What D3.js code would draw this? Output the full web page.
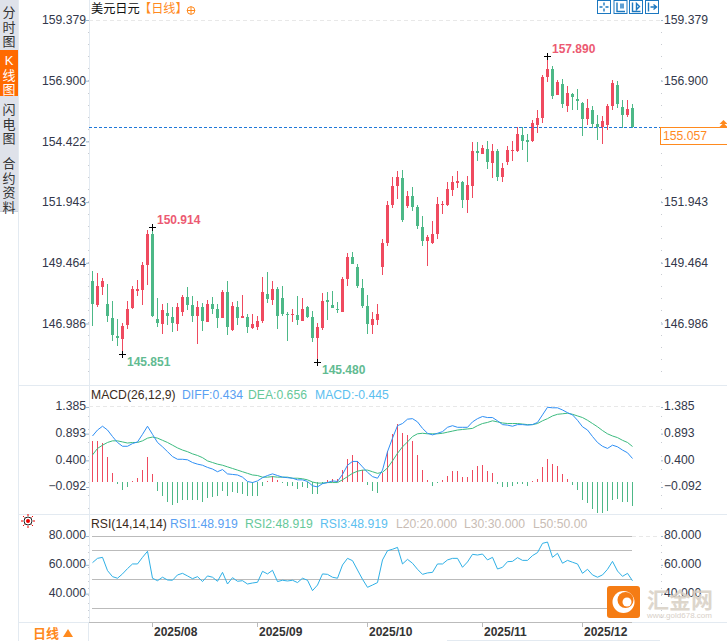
<!DOCTYPE html>
<html>
<head>
<meta charset="utf-8">
<title>美元日元</title>
<script src="https://cdn.jsdelivr.net/npm/d3@7"></script>
<style>
  html, body { margin: 0; padding: 0; background: #fff; }
  svg { display: block; }
  text { font-family: "Liberation Sans", "Noto Sans CJK SC", sans-serif; }
</style>
</head>
<body>
<svg id="chart" width="727" height="641"></svg>
<script>
// --- Data ---
const opens = [148.72,147.75,148.48,147.79,147.21,146.48,146.36,146.93,147.62,148.32,148.36,149.38,150.64,147.17,146.97,147.42,147.25,146.97,147.46,148.07,
  147.75,147.29,147.66,147.05,147.79,147.58,147.21,148.27,146.72,147.66,147.21,147.25,146.80,146.84,147.09,148.19,147.95,148.40,148.03,147.37,
  147.33,147.33,147.09,147.66,147.25,146.40,146.80,147.95,147.75,147.58,147.46,148.80,149.70,149.30,148.44,147.70,146.93,147.13,149.30,150.27,
  151.83,152.60,152.93,151.79,152.20,151.75,150.93,150.36,150.27,150.64,151.83,151.83,152.44,152.72,152.76,152.03,152.60,154.03,153.91,154.11,
  153.54,154.03,152.97,153.58,154.03,154.03,154.68,154.48,154.44,155.09,155.38,157.05,157.38,156.32,156.77,155.87,156.36,156.15,155.99,155.34,
  155.70,155.13,155.01,155.09,155.87,156.73,155.83,155.50,155.79];
const highs = [149.13,149.05,148.84,148.60,147.91,147.17,147.01,147.91,148.52,148.76,149.50,150.81,150.89,148.03,147.79,147.83,147.66,147.83,148.15,148.48,
  148.11,147.91,147.83,147.95,148.07,147.79,148.36,148.72,147.87,147.91,148.15,147.37,147.37,147.29,148.89,149.09,148.72,148.48,148.52,147.46,
  147.58,148.11,148.03,147.70,147.50,147.01,148.23,148.27,148.31,147.87,148.89,149.87,149.91,149.42,148.80,148.15,147.46,147.79,150.44,151.99,
  152.97,153.21,153.25,152.40,152.56,151.83,151.38,150.60,151.17,152.15,151.99,152.76,153.01,153.21,152.81,153.01,154.40,154.40,154.28,154.44,
  154.32,154.11,153.54,154.24,154.44,155.01,155.01,154.72,155.30,155.70,157.13,157.87,157.50,156.93,156.97,156.68,156.40,156.56,156.03,156.15,
  155.87,155.50,155.46,155.95,156.93,156.89,156.11,156.11,155.95];
const lows = [146.89,147.66,148.15,147.05,146.27,146.07,145.78,146.76,147.58,148.11,147.75,148.56,147.25,146.84,146.56,146.93,146.64,146.68,147.29,147.54,
  147.05,146.15,146.68,147.05,147.37,146.80,147.21,146.52,146.68,146.93,147.21,146.60,146.76,146.72,147.01,147.83,147.75,146.76,147.29,146.27,
  147.05,146.93,147.09,147.21,146.23,145.46,146.72,147.13,147.62,147.42,147.46,148.52,149.42,148.44,147.62,146.56,146.56,146.93,148.97,150.15,
  151.70,152.07,151.13,151.70,151.58,150.85,150.15,149.34,150.23,150.44,151.46,151.79,152.20,152.52,151.70,151.50,152.11,153.62,153.91,153.30,
  152.93,152.81,152.76,153.46,153.62,153.99,154.07,153.58,154.40,154.77,155.17,156.85,156.15,156.32,155.79,155.62,155.70,155.70,154.64,155.09,
  154.97,154.48,154.32,154.89,155.70,155.79,154.97,155.42,154.97];
const closes = [147.79,148.52,148.72,147.30,146.52,146.40,146.89,147.58,148.40,148.40,149.38,150.64,147.29,147.00,147.54,147.29,147.00,147.66,148.07,147.75,
  147.29,147.66,147.09,147.79,147.58,147.21,148.27,146.84,147.70,147.21,147.29,146.84,146.97,147.09,148.27,147.99,148.40,147.29,147.37,147.33,
  147.37,147.13,147.58,147.25,146.40,146.85,147.91,147.87,147.62,147.54,148.80,149.70,149.42,148.52,147.70,146.97,147.17,147.37,150.27,151.83,
  152.60,152.97,151.21,152.20,151.75,150.97,150.36,150.52,150.64,151.87,151.87,152.48,152.76,152.81,152.03,152.64,154.03,153.95,154.15,153.58,
  154.03,152.97,153.34,154.07,154.07,154.72,154.44,154.40,155.17,155.38,157.05,157.38,156.28,156.85,155.95,156.40,156.24,156.07,155.34,155.79,
  155.13,155.01,155.26,155.87,156.81,155.95,155.50,155.75,155.01];

const diffLine = [.85,.96,1.03,.96,.84,.73,.66,.66,.71,.74,.88,1.03,.88,.73,.65,.56,.47,.42,.42,.41,
  .36,.33,.31,.27,.24,.19,.23,.15,.14,.13,.09,.01,-.01,.02,.08,.12,.15,.12,.09,.08,
  .07,.04,.04,.01,-.07,-.09,-.03,-.01,.02,.01,.14,.31,.38,.38,.28,.18,.10,.07,.22,.56,
  .81,1.04,1.08,1.16,1.17,1.11,.99,.90,.87,.90,.93,1.01,1.04,1.01,1.01,1.01,1.11,1.17,1.21,1.19,
  1.19,1.13,1.06,1.05,1.03,1.06,1.06,1.05,1.06,1.10,1.24,1.38,1.37,1.37,1.33,1.28,1.24,1.14,1.02,.96,
  .84,.73,.66,.62,.68,.65,.59,.54,.434];
const deaLine = [.50,.62,.68,.73,.76,.76,.74,.72,.73,.73,.76,.81,.83,.81,.77,.73,.68,.63,.59,.56,
  .52,.49,.45,.39,.36,.33,.31,.28,.25,.22,.19,.16,.13,.12,.09,.09,.10,.09,.09,.09,
  .07,.07,.06,.04,0,-.02,-.02,-.01,-.01,-.01,.04,.10,.16,.20,.22,.22,.19,.16,.18,.26,
  .39,.53,.65,.74,.84,.89,.90,.89,.89,.89,.90,.92,.94,.96,.97,.98,.99,1.04,1.08,1.10,
  1.13,1.11,1.09,1.08,1.08,1.08,1.07,1.06,1.06,1.08,1.13,1.17,1.22,1.25,1.26,1.27,1.25,1.22,1.19,1.14,
  1.08,1.02,.95,.89,.85,.82,.77,.73,.656];
const macdBars = [.75,.75,.72,.47,.17,-.04,-.14,-.10,.02,.07,.23,.46,.14,-.16,-.25,-.36,-.43,-.39,-.33,-.33,
  -.33,-.34,-.36,-.30,-.28,-.26,-.16,-.25,-.18,-.20,-.23,-.26,-.26,-.25,-.07,.02,.12,.04,-.02,-.07,
  -.08,-.12,-.10,-.11,-.22,-.22,-.04,.04,.06,.06,.23,.43,.49,.38,.22,-.05,-.16,-.21,.17,.57,
  .89,1.07,.90,.87,.75,.50,.23,.04,-.08,-.01,.04,.12,.20,.21,.09,.09,.23,.29,.31,.21,
  .17,-.03,-.10,-.09,-.08,-.04,-.03,-.07,.02,.06,.28,.43,.34,.30,.14,.06,-.05,-.15,-.33,-.39,
  -.49,-.57,-.57,-.53,-.33,-.31,-.36,-.37,-.445];
const rsiLine = [61.5,64.5,65.2,56.0,51.8,50.7,53.7,57.4,60.6,60.6,65.2,69.4,50.7,49.0,51.4,49.5,49.3,53.0,54.1,52.3,
  50.4,51.8,48.4,52.3,51.4,48.6,54.8,46.7,51.1,48.6,49.0,46.7,47.4,47.9,55.5,53.7,56.2,48.4,49.3,48.8,
  49.3,47.7,50.7,49.3,42.1,46.0,53.7,53.4,51.4,50.7,59.9,64.5,62.9,56.4,50.0,44.4,46.0,47.7,63.4,69.8,
  70.8,72.1,60.6,63.8,61.1,56.9,53.4,54.4,54.8,60.6,60.6,63.4,64.5,64.5,58.3,62.0,67.3,66.8,67.5,63.4,
  65.2,57.1,58.3,62.2,62.4,65.0,63.1,63.1,66.4,68.5,74.9,75.8,65.2,68.0,61.1,63.1,61.8,60.6,54.1,56.9,
  53.0,51.4,53.0,56.9,62.4,55.7,52.0,54.1,48.919];

const priceTicks = [159.379, 156.9, 154.422, 151.943, 149.464, 146.986];
const priceTicksRight = [159.379, 156.9, 151.943, 149.464, 146.986]; // 154.422 sits under the last price box
const macdTicks = [1.385, 0.893, 0.4, -0.092];
const rsiTicks = [80, 60, 40];
const rsiLevels = [80, 70, 50, 30];
const lastPrice = 155.057;
const dateLabels = ["2025/08", "2025/09", "2025/10", "2025/11", "2025/12"];
const dateIndex = [12, 33, 55, 78, 98];
// [candle index, price, printed label, at high?]
const extremes = [[12, 150.89, "150.914", true], [6, 145.78, "145.851", false], [45, 145.46, "145.480", false], [91, 157.87, "157.890", true]];
const tabs = [["分", "时", "图"], ["K", "线", "图"], ["闪", "电", "图"], ["合", "约", "资", "料"]];

const RED = "#ef4a5f", GREEN = "#4db887";
const svg = d3.select("#chart");

// --- Scales ---
const x = d3.scaleLinear().domain([0, 108]).range([92.5, 632.5]);
const yPrice = d3.scaleLinear().domain([159.379, 146.986]).range([20, 323.5]);
const yMacd = d3.scaleLinear().domain([1.385, -0.092]).range([407, 487]);
const yRsi = d3.scaleLinear().domain([80, 20]).range([536, 622.5]);

// --- Frame ---
const frame = svg.append("g").attr("shape-rendering", "crispEdges");
frame.append("rect").attr("x", 0).attr("y", 0).attr("width", 18).attr("height", 211).attr("fill", "#dfe2ea");
frame.append("rect").attr("x", 0).attr("y", 50).attr("width", 18).attr("height", 46).attr("fill", "#ff6a00");
[[18, 0, 18, 641], [89, 0, 89, 622], [18, 385, 727, 385], [18, 514, 727, 514], [18, 622, 727, 622], [88, 622, 88, 641], [447, 640, 660, 640]]
  .forEach(l => frame.append("line").attr("x1", l[0]).attr("y1", l[1]).attr("x2", l[2]).attr("y2", l[3]).attr("stroke", "#e3eaf1"));
frame.append("line").attr("x1", 0).attr("y1", 211).attr("x2", 18).attr("y2", 211).attr("stroke", "#c8d0da");
frame.append("line").attr("x1", 89).attr("y1", 622).attr("x2", 632).attr("y2", 622).attr("stroke", "#bbb");

const tabTop = [17, 65, 114, 168];
tabs.forEach((chars, t) => chars.forEach((c, i) => {
  svg.append("text").attr("x", 9).attr("y", tabTop[t] + i * 14.6).attr("text-anchor", "middle")
    .attr("font-size", 13).attr("fill", t === 1 ? "#fff" : "#333").text(c);
}));

// --- Axes on both sides ---
function sideAxes(scale, ticks, fmt, dy, rightTicks) {
  [[d3.axisLeft, 89, ticks], [d3.axisRight, 661, rightTicks || ticks]].forEach(([axisFn, pos, vals]) => {
    const g = svg.append("g").attr("transform", `translate(${pos},0)`)
      .call(axisFn(scale).tickValues(vals).tickFormat(fmt).tickSize(pos === 89 ? 3 : 2).tickPadding(pos === 89 ? 0 : 1));
    g.select(".domain").remove();
    g.selectAll("line").attr("stroke", "#9fb6cc");
    g.selectAll("text").attr("font-size", 12.2).attr("fill", "#33384a").attr("dy", dy).attr("font-family", null);
  });
}
sideAxes(yPrice, priceTicks, d3.format(".3f"), "0.3em", priceTicksRight);
sideAxes(yMacd, macdTicks, d3.format(".3f"), "0.22em");
sideAxes(yRsi, rsiTicks, d3.format(".3f"), "0.2em");

// minor ticks, dotted
function minorTicks(from, to, step) {
  d3.range(from, to, step).forEach(v => {
    [88, 661].forEach(px => frame.append("rect").attr("x", px).attr("y", v).attr("width", 1).attr("height", 1).attr("fill", "#c9ccd2"));
  });
}
minorTicks(32, 380, 12.1);
minorTicks(416, 510, 13.2);
minorTicks(545, 620, 7.2);

// faint dashed top lines
[[yPrice(priceTicks[0]), 89], [406, 89], [536, 632]].forEach(([py, from]) => {
  frame.append("line").attr("x1", from).attr("y1", py).attr("x2", 660).attr("y2", py)
    .attr("stroke", "#e8e8e8").attr("stroke-dasharray", "4 3");
});

// --- Candles ---
const candles = svg.append("g").attr("shape-rendering", "crispEdges");
const isUp = i => closes[i] >= opens[i];
candles.selectAll(".wick").data(d3.range(opens.length)).join("rect").attr("class", "wick")
  .attr("x", i => Math.floor(x(i))).attr("width", 1)
  .attr("y", i => yPrice(highs[i])).attr("height", i => yPrice(lows[i]) - yPrice(highs[i]))
  .attr("fill", i => isUp(i) ? RED : GREEN);
candles.selectAll(".body").data(d3.range(opens.length)).join("rect").attr("class", "body")
  .attr("x", i => Math.floor(x(i)) - 1).attr("width", 3)
  .attr("y", i => yPrice(Math.max(opens[i], closes[i])))
  .attr("height", i => Math.max(1, Math.abs(yPrice(opens[i]) - yPrice(closes[i]))))
  .attr("fill", i => isUp(i) ? RED : GREEN);

// high / low markers
extremes.forEach(([i, price, label, atHigh]) => {
  const px = Math.floor(x(i)), py = Math.round(yPrice(price)) + (atHigh ? -1 : 1);
  candles.append("rect").attr("x", px - 3).attr("y", py).attr("width", 7).attr("height", 1).attr("fill", "#000");
  candles.append("rect").attr("x", px).attr("y", py - 3).attr("width", 1).attr("height", 7).attr("fill", "#000");
  svg.append("text").attr("x", px + 5).attr("y", py + (atHigh ? -3 : 12)).attr("font-size", 12).attr("font-weight", "bold")
    .attr("fill", atHigh ? "#ec5a72" : "#62bb92").text(label);
});

// last price line and box, on top of the axis
const lastG = svg.append("g");
lastG.append("line").attr("x1", 89).attr("x2", 660).attr("y1", Math.round(yPrice(closes[108])) + 0.5).attr("y2", Math.round(yPrice(closes[108])) + 0.5)
  .attr("stroke", "#1f78d8").attr("stroke-dasharray", "3 2").attr("shape-rendering", "crispEdges");
lastG.append("rect").attr("x", 660.5).attr("y", 127.5).attr("width", 70).attr("height", 17)
  .attr("fill", "#fff").attr("stroke", "#ff8a1e").attr("shape-rendering", "crispEdges");
lastG.append("text").attr("x", 663).attr("y", 140).attr("font-size", 12.2).attr("fill", "#ff8a1e").text(lastPrice.toFixed(3));
[120, 123].forEach(t => lastG.append("path").attr("d", `M719.5,${t + 4}L723.5,${t}L727.5,${t + 4}Z`).attr("fill", "#ff8a1e"));

// --- MACD ---
const macdG = svg.append("g");
macdG.append("g").attr("shape-rendering", "crispEdges").selectAll("rect").data(macdBars).join("rect")
  .attr("x", (d, i) => Math.floor(x(i))).attr("width", 1)
  .attr("y", d => yMacd(Math.max(0, d))).attr("height", d => Math.abs(yMacd(d) - yMacd(0)))
  .attr("fill", d => d >= 0 ? RED : GREEN);
const macdPath = d3.line().x((d, i) => x(i)).y(d => yMacd(d));
macdG.append("path").attr("d", macdPath(deaLine)).attr("fill", "none").attr("stroke", "#3dbb80");
macdG.append("path").attr("d", macdPath(diffLine)).attr("fill", "none").attr("stroke", "#2e8ff5");

// --- RSI ---
const rsiG = svg.append("g");
rsiLevels.forEach(v => {
  rsiG.append("line").attr("x1", 92).attr("x2", 632).attr("y1", Math.round(yRsi(v)) + 0.5).attr("y2", Math.round(yRsi(v)) + 0.5)
    .attr("stroke", "#bbb").attr("shape-rendering", "crispEdges");
});
rsiG.append("path").attr("d", d3.line().x((d, i) => x(i)).y(d => yRsi(d))(rsiLine))
  .attr("fill", "none").attr("stroke", "#2fb0e6");

// --- Headers ---
function header(items, py) {
  items.forEach(([text, px, color]) => {
    svg.append("text").attr("x", px).attr("y", py).attr("font-size", 12.2).attr("fill", color).text(text);
  });
}
header([["美元日元", 91, "#111"], ["【日线】", 139, "#ff8a1e"]], 13);
header([["MACD(26,12,9)", 91, "#3a2a1a"], ["DIFF:0.434", 182, "#5aa0f2"], ["DEA:0.656", 248, "#66c89a"], ["MACD:-0.445", 315, "#5cc0f0"]], 399);
header([["RSI(14,14,14)", 91, "#3a2a1a"], ["RSI1:48.919", 170, "#5aa0f2"], ["RSI2:48.919", 245, "#66c89a"], ["RSI3:48.919", 320, "#5cc0f0"],
  ["L20:20.000", 396, "#c8bcb4"], ["L30:30.000", 464, "#c8bcb4"], ["L50:50.00", 533, "#c8bcb4"]], 528);

// crosshair-in-circle next to the title
svg.append("circle").attr("cx", 191).attr("cy", 10.5).attr("r", 3.8).attr("fill", "none").attr("stroke", "#ff8a1e");
svg.append("path").attr("d", "M187,10.5H195M191,6.5V14.5").attr("stroke", "#ff8a1e").attr("fill", "none");

// toolbar buttons
const toolX = [597.5, 614, 629.5, 645.5];
const toolGlyph = [
  "M6.5,2V5M6.5,8V11M2,6.5H5M8,6.5H11",
  "M3,2V11H11M7,3V8M9,3V8",
  "M3,2V11H11M7,3L10,6L7,9Z",
  "M3,2V11M5,6.5H11M8,4L11,6.5L8,9"];
toolX.forEach((tx, i) => {
  const g = svg.append("g").attr("transform", `translate(${tx},0.5)`);
  g.append("rect").attr("width", 13).attr("height", 13).attr("fill", "#fff").attr("stroke", "#1c78c0");
  g.append("path").attr("d", toolGlyph[i]).attr("fill", "none").attr("stroke", "#1c78c0").attr("stroke-width", 1.4);
});

// indicator icon on RSI row
const icon = svg.append("g").attr("transform", "translate(28,521)");
icon.append("circle").attr("r", 2).attr("fill", "#e00");
icon.append("circle").attr("r", 4).attr("fill", "none").attr("stroke", "#222");
d3.range(8).forEach(k => {
  const a = k * Math.PI / 4;
  icon.append("line").attr("x1", 5 * Math.cos(a)).attr("y1", 5 * Math.sin(a)).attr("x2", 7 * Math.cos(a)).attr("y2", 7 * Math.sin(a)).attr("stroke", "#e00");
});

// --- Bottom strip ---
svg.append("text").attr("x", 33).attr("y", 638).attr("font-size", 13).attr("font-weight", "bold").attr("fill", "#ff8a1e").text("日线");
svg.append("path").attr("d", "M63,637L68,629L73,637Z").attr("fill", "#ff8a1e");
dateIndex.forEach((idx, k) => {
  const px = Math.floor(x(idx));
  frame.append("line").attr("x1", px).attr("x2", px).attr("y1", 623).attr("y2", 627).attr("stroke", "#bbb");
  svg.append("text").attr("x", px + 2).attr("y", 636).attr("font-size", 12).attr("font-weight", "bold").attr("fill", "#333").text(dateLabels[k]);
});

// --- Watermark ---
const wm = svg.append("g");
wm.append("rect").attr("x", 607).attr("y", 586).attr("width", 33).attr("height", 32).attr("rx", 3).attr("fill", "#f57c14");
wm.append("circle").attr("cx", 623.5).attr("cy", 602).attr("r", 11).attr("fill", "#fff");
wm.append("circle").attr("cx", 625.5).attr("cy", 600).attr("r", 8).attr("fill", "#f57c14");
wm.append("circle").attr("cx", 627).attr("cy", 602).attr("r", 4.5).attr("fill", "#fff");
wm.append("text").attr("x", 647).attr("y", 608).attr("font-size", 22).attr("font-weight", "bold").attr("fill", "#d8cfc4").attr("opacity", 0.85).text("汇金网");
wm.append("text").attr("x", 647).attr("y", 618).attr("font-size", 8).attr("fill", "#d8d0c8").text("www.gold678.com");
</script>
</body>
</html>
